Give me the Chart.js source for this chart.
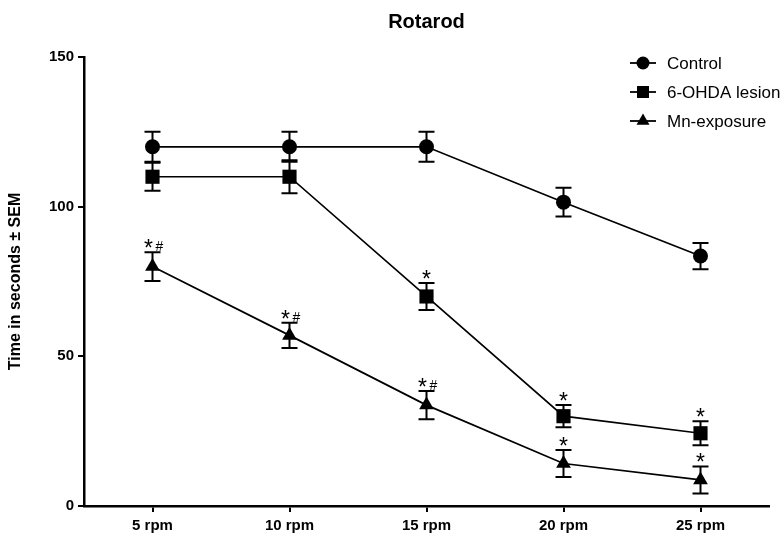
<!DOCTYPE html>
<html>
<head>
<meta charset="utf-8">
<script src="https://cdn.jsdelivr.net/npm/chart.js"></script>
<style>
  html, body { margin: 0; padding: 0; background: #fff; }
  #wrap { width: 782px; height: 535px; }
</style>
</head>
<body>
<div id="wrap"><canvas id="c" width="782" height="535"></canvas></div>
<script>
const categories = ['5 rpm', '10 rpm', '15 rpm', '20 rpm', '25 rpm'];
const seriesNames = ['Control', '6-OHDA lesion', 'Mn-exposure'];
const controlValues = [120, 120, 120, 101.5, 83.5];
const controlSem = [5, 5, 5, 4.8, 4.4];
const lesionValues = [110, 110, 70, 30, 24.3];
const lesionSem = [4.7, 5.5, 4.5, 3.7, 4];
const mnValues = [80, 57, 33.7, 14.2, 8.7];
const mnSem = [4.8, 4.2, 4.7, 4.5, 4.5];
const controlMarks = ['', '', '', '', ''];
const lesionMarks = ['', '', '*', '*', '*'];
const mnMarks = ['*#', '*#', '*#', '*', '*'];
const yTicks = [0, 50, 100, 150];

const FONT = '"Liberation Sans", Arial, Helvetica, sans-serif';
const styles = ['circle', 'rect', 'triangle'];
const radii = [7.5, 10, 8.5];

function mkDataset(label, data, sem, marks, style, r) {
  return {
    label, data, sem, marks,
    borderColor: '#000', backgroundColor: '#000',
    borderWidth: 1.7, tension: 0,
    pointStyle: style, pointRadius: r, pointHoverRadius: r,
    pointBorderColor: '#000', pointBackgroundColor: '#000', pointBorderWidth: 0
  };
}

function drawMarker(ctx, style, x, y, r) {
  ctx.beginPath();
  if (style === 'circle') {
    ctx.arc(x, y, r, 0, Math.PI * 2);
  } else if (style === 'rect') {
    const s = Math.SQRT1_2 * r;
    ctx.rect(x - s, y - s, 2 * s, 2 * s);
  } else {
    const h = r;
    ctx.moveTo(x, y - h);
    ctx.lineTo(x + h * Math.sin(Math.PI / 3), y + h / 2);
    ctx.lineTo(x - h * Math.sin(Math.PI / 3), y + h / 2);
    ctx.closePath();
  }
  ctx.fill();
}

const errorBars = {
  id: 'errorBars',
  beforeDatasetsDraw(chart) {
    const ctx = chart.ctx;
    const y = chart.scales.y;
    ctx.save();
    ctx.strokeStyle = '#000';
    ctx.lineWidth = 2;
    chart.data.datasets.forEach((ds, di) => {
      const meta = chart.getDatasetMeta(di);
      meta.data.forEach((pt, i) => {
        const v = ds.data[i], e = ds.sem[i];
        const yt = y.getPixelForValue(v + e), yb = y.getPixelForValue(v - e);
        const x = pt.x, w = 8;
        ctx.beginPath();
        ctx.moveTo(x, yt); ctx.lineTo(x, yb);
        ctx.moveTo(x - w, yt); ctx.lineTo(x + w, yt);
        ctx.moveTo(x - w, yb); ctx.lineTo(x + w, yb);
        ctx.stroke();
      });
    });
    ctx.restore();
  },
  afterDatasetsDraw(chart) {
    const ctx = chart.ctx;
    const y = chart.scales.y;
    ctx.save();
    ctx.fillStyle = '#000';
    ctx.textBaseline = 'alphabetic';
    chart.data.datasets.forEach((ds, di) => {
      const meta = chart.getDatasetMeta(di);
      meta.data.forEach((pt, i) => {
        const m = ds.marks[i];
        if (!m) return;
        const yt = y.getPixelForValue(ds.data[i] + ds.sem[i]);
        const base = yt + 4;
        if (m === '*') {
          ctx.font = '23px ' + FONT;
          ctx.textAlign = 'center';
          ctx.fillText('*', pt.x, base);
        } else {
          ctx.font = '23px ' + FONT;
          ctx.textAlign = 'center';
          ctx.fillText('*', pt.x - 4, base);
          ctx.font = '14px ' + FONT;
          ctx.fillText('#', pt.x + 7, base - 5);
        }
      });
    });
    ctx.restore();
  }
};

const customLegend = {
  id: 'customLegend',
  afterDraw(chart) {
    const ctx = chart.ctx;
    ctx.save();
    const x0 = 630, x1 = 656, xm = 643, xt = 667;
    const rows = [63, 92, 121];
    const lr = [6.5, 8.5, 7.5];
    chart.data.datasets.forEach((ds, i) => {
      const yy = rows[i];
      ctx.strokeStyle = '#000';
      ctx.fillStyle = '#000';
      ctx.lineWidth = 1.8;
      ctx.beginPath(); ctx.moveTo(x0, yy); ctx.lineTo(x1, yy); ctx.stroke();
      drawMarker(ctx, styles[i], xm, yy, lr[i]);
      ctx.font = '17px ' + FONT;
      ctx.textAlign = 'left';
      ctx.textBaseline = 'middle';
      ctx.fillText(ds.label, xt, yy + 1);
    });
    ctx.restore();
  }
};

new Chart(document.getElementById('c'), {
  type: 'line',
  data: {
    labels: categories,
    datasets: [
      mkDataset(seriesNames[0], controlValues, controlSem, controlMarks, styles[0], radii[0]),
      mkDataset(seriesNames[1], lesionValues, lesionSem, lesionMarks, styles[1], radii[1]),
      mkDataset(seriesNames[2], mnValues, mnSem, mnMarks, styles[2], radii[2])
    ]
  },
  options: {
    responsive: false,
    animation: false,
    devicePixelRatio: 1,
    layout: { padding: { top: 0, right: 13, left: 0, bottom: 0 } },
    plugins: {
      legend: { display: false },
      tooltip: { enabled: false },
      title: {
        display: true, text: 'Rotarod', fullSize: false,
        color: '#000',
        font: { family: FONT, size: 20, weight: 'bold' },
        padding: { top: 10, bottom: 23 }
      }
    },
    scales: {
      x: {
        type: 'category', offset: true,
        grid: { drawOnChartArea: false, drawTicks: true, tickLength: 6, color: '#000', lineWidth: 2 },
        border: { display: true, color: '#000', width: 2.5 },
        ticks: { color: '#000', font: { family: FONT, size: 15, weight: 'bold' }, padding: 5, maxRotation: 0 },
        afterFit(s) { s.height = 29; }
      },
      y: {
        min: 0, max: 150,
        afterBuildTicks(s) { s.ticks = yTicks.map(v => ({ value: v })); },
        grid: { drawOnChartArea: false, drawTicks: true, tickLength: 6, color: '#000', lineWidth: 2 },
        border: { display: true, color: '#000', width: 2.5 },
        ticks: { color: '#000', font: { family: FONT, size: 15, weight: 'bold' }, padding: 4 },
        title: {
          display: true, text: 'Time in seconds ± SEM', color: '#000',
          font: { family: FONT, size: 16, weight: 'bold' },
          padding: { top: 6, bottom: 0 }
        },
        afterFit(s) { s.width = 84; }
      }
    }
  },
  plugins: [errorBars, customLegend]
});
</script>
</body>
</html>
